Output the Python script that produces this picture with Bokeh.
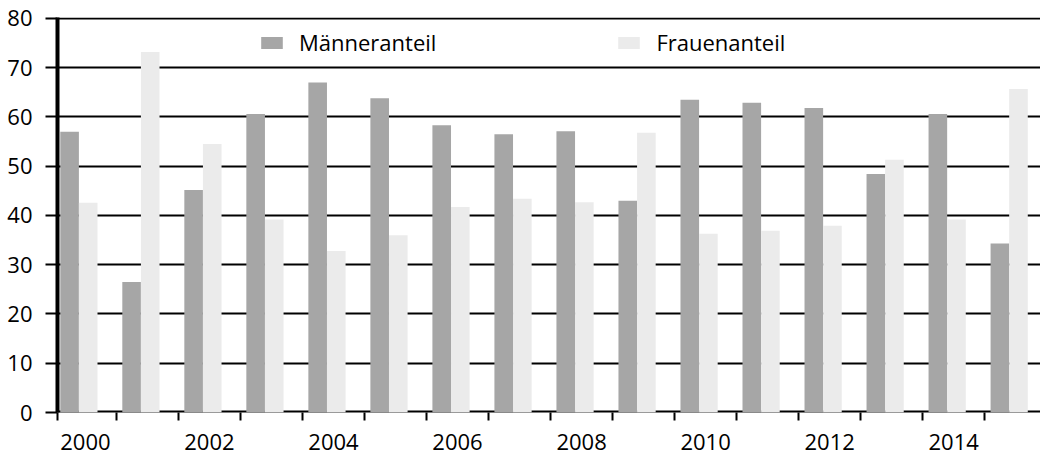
from bokeh.plotting import figure
from bokeh.models import ColumnDataSource, FixedTicker, Legend, LegendItem, Span, Range1d
from bokeh.transform import dodge
from bokeh.embed import file_html
from bokeh.resources import INLINE

years = ["2000", "2001", "2002", "2003", "2004", "2005", "2006", "2007",
         "2008", "2009", "2010", "2011", "2012", "2013", "2014", "2015"]
maenner = [57.0, 26.5, 45.2, 60.6, 67.0, 63.8, 58.3, 56.5,
           57.1, 43.0, 63.5, 62.9, 61.8, 48.4, 60.6, 34.3]
frauen = [42.6, 73.2, 54.5, 39.2, 32.8, 36.0, 41.7, 43.4,
          42.7, 56.8, 36.3, 36.9, 37.9, 51.3, 39.2, 65.7]
y_ticks = [0, 10, 20, 30, 40, 50, 60, 70, 80]

FONT = "Open Sans"
FS = "22px"

idx = list(range(len(years)))
src = ColumnDataSource(dict(x=idx, m=maenner, f=frauen))

p = figure(width=1040, height=458, output_backend="svg", toolbar_location=None,
           x_range=Range1d(-0.45, 15.40), y_range=Range1d(0, 80.2),
           min_border_left=57, min_border_top=17, min_border_right=0,
           min_border_bottom=46)
p.outline_line_color = None
p.background_fill_color = "white"

# zero line (under bars)
p.add_layout(Span(location=0, dimension="width", line_color="black",
                  line_width=4, level="underlay"))

r_m = p.vbar(x=dodge("x", -0.255), top="m", width=0.30, source=src,
             fill_color="#a6a6a6", line_color=None)
r_f = p.vbar(x=dodge("x", 0.045), top="f", width=0.30, source=src,
             fill_color="#ebebeb", line_color=None)

# y axis
p.yaxis.ticker = FixedTicker(ticks=y_ticks)
p.yaxis.axis_line_width = 4
p.yaxis.axis_line_color = "black"
p.yaxis.major_tick_line_width = 2
p.yaxis.major_tick_out = 12
p.yaxis.major_tick_in = 0
p.yaxis.minor_tick_line_color = None
p.yaxis.major_label_standoff = 13
p.yaxis.major_label_text_font = FONT
p.yaxis.major_label_text_font_size = FS
p.yaxis.major_label_text_color = "black"

p.ygrid.ticker = FixedTicker(ticks=y_ticks)
p.ygrid.grid_line_color = "black"
p.ygrid.grid_line_width = 2
p.xgrid.grid_line_color = None

# x axis: labels at group centres, ticks at group boundaries
label_pos = [i for i in idx if i % 2 == 0]
bounds = [-0.45] + [i + 0.5 for i in idx[:-1]]
p.xaxis.ticker = FixedTicker(ticks=label_pos, minor_ticks=bounds)
p.xaxis.major_label_overrides = {i: years[i] for i in label_pos}
p.xaxis.axis_line_color = None
p.xaxis.major_tick_line_color = None
p.xaxis.major_tick_out = 0
p.xaxis.major_tick_in = 0
p.xaxis.minor_tick_line_color = "black"
p.xaxis.minor_tick_line_width = 2
p.xaxis.minor_tick_out = 8
p.xaxis.minor_tick_in = 0
p.xaxis.major_label_standoff = 13
p.xaxis.major_label_text_font = FONT
p.xaxis.major_label_text_font_size = FS
p.xaxis.major_label_text_color = "black"

legend = Legend(items=[LegendItem(label="Männeranteil", renderers=[r_m]),
                       LegendItem(label="Frauenanteil", renderers=[r_f])],
                orientation="horizontal", location=(201, 355),
                glyph_width=27, glyph_height=15, label_standoff=14,
                spacing=179, padding=0, margin=0,
                border_line_color=None, background_fill_alpha=0,
                label_text_font=FONT, label_text_font_size=FS,
                label_text_color="black")
p.add_layout(legend, "center")

open("out.html", "w").write(file_html(p, INLINE))
